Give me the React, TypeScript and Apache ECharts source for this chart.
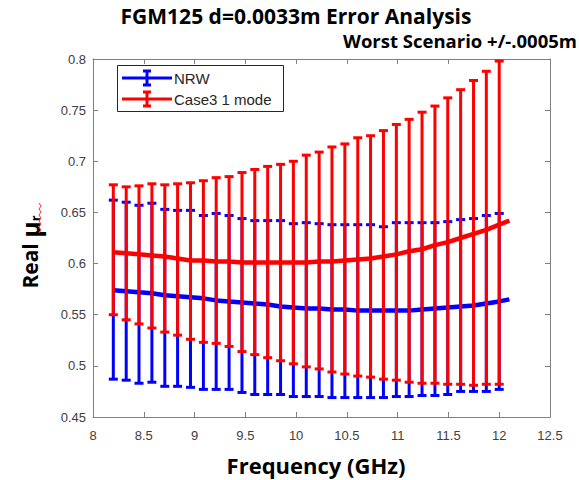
import React, { useEffect, useRef } from "react";
import * as echarts from "echarts";

const freq = [8.2, 8.327, 8.453, 8.58, 8.707, 8.833, 8.96, 9.087, 9.213, 9.34, 9.467, 9.593, 9.72, 9.847, 9.973, 10.1, 10.227, 10.353, 10.48, 10.607, 10.733, 10.86, 10.987, 11.113, 11.24, 11.367, 11.493, 11.62, 11.747, 11.873, 12.0];

const nrwCenter = [0.574, 0.573, 0.572, 0.571, 0.569, 0.568, 0.567, 0.566, 0.564, 0.563, 0.562, 0.561, 0.56, 0.558, 0.557, 0.556, 0.556, 0.555, 0.555, 0.554, 0.554, 0.554, 0.554, 0.554, 0.555, 0.556, 0.557, 0.558, 0.559, 0.561, 0.563];
const nrwLow = [0.487, 0.486, 0.483, 0.484, 0.48, 0.48, 0.479, 0.477, 0.477, 0.477, 0.474, 0.472, 0.472, 0.472, 0.47, 0.47, 0.47, 0.469, 0.469, 0.469, 0.469, 0.469, 0.47, 0.47, 0.471, 0.471, 0.472, 0.475, 0.475, 0.475, 0.477];
const nrwHigh = [0.662, 0.66, 0.657, 0.659, 0.653, 0.652, 0.652, 0.647, 0.649, 0.647, 0.644, 0.642, 0.642, 0.642, 0.639, 0.64, 0.639, 0.638, 0.638, 0.638, 0.638, 0.636, 0.64, 0.64, 0.64, 0.64, 0.641, 0.643, 0.644, 0.647, 0.649];

const caseCenter = [0.611, 0.61, 0.609, 0.608, 0.607, 0.605, 0.603, 0.603, 0.602, 0.602, 0.601, 0.601, 0.601, 0.601, 0.601, 0.601, 0.602, 0.602, 0.603, 0.604, 0.605, 0.607, 0.609, 0.612, 0.614, 0.618, 0.621, 0.625, 0.629, 0.633, 0.638];
const caseLow = [0.55, 0.545, 0.541, 0.537, 0.533, 0.53, 0.526, 0.523, 0.522, 0.519, 0.514, 0.511, 0.508, 0.505, 0.502, 0.499, 0.497, 0.494, 0.492, 0.49, 0.489, 0.487, 0.486, 0.484, 0.483, 0.483, 0.482, 0.482, 0.481, 0.482, 0.482];
const caseHigh = [0.677, 0.675, 0.676, 0.678, 0.677, 0.678, 0.679, 0.681, 0.684, 0.685, 0.689, 0.692, 0.695, 0.697, 0.7, 0.706, 0.709, 0.714, 0.717, 0.723, 0.725, 0.73, 0.736, 0.741, 0.748, 0.754, 0.762, 0.77, 0.779, 0.788, 0.798];

// the plotted centre curves continue a little past the last error bar
const tailFreq = 12.1;
const nrwTail = 0.565;
const caseTail = 0.642;

const seriesNames = ["NRW", "Case3 1 mode"];
const BLUE = "#0000ff";
const RED = "#ff0000";
const AXIS = "#7f7f7f";
const LABEL = "#404040";

function errorBarSeries(name: string, color: string, low: number[], high: number[], z: number) {
  return {
    type: "custom",
    name,
    z,
    data: freq.map((f, i) => [f, low[i], high[i]]),
    encode: { x: 0, y: [1, 2] },
    renderItem: (_params: any, api: any) => {
      const x = api.value(0);
      const pLo = api.coord([x, api.value(1)]);
      const pHi = api.coord([x, api.value(2)]);
      const hw = 4.5;
      const st = { stroke: color, lineWidth: 3 };
      return {
        type: "group",
        children: [
          { type: "line", shape: { x1: pLo[0], y1: pLo[1], x2: pHi[0], y2: pHi[1] }, style: st },
          { type: "line", shape: { x1: pLo[0] - hw, y1: pLo[1], x2: pLo[0] + hw, y2: pLo[1] }, style: st },
          { type: "line", shape: { x1: pHi[0] - hw, y1: pHi[1], x2: pHi[0] + hw, y2: pHi[1] }, style: st },
        ],
      };
    },
  };
}

function legendItem(y: number, color: string, label: string) {
  const st = { stroke: color, lineWidth: 3 };
  return [
    { type: "line", shape: { x1: 122, y1: y, x2: 172, y2: y }, style: st, z: 101 },
    { type: "line", shape: { x1: 147, y1: y - 7, x2: 147, y2: y + 7 }, style: st, z: 101 },
    { type: "line", shape: { x1: 143, y1: y - 7, x2: 151, y2: y - 7 }, style: st, z: 101 },
    { type: "line", shape: { x1: 143, y1: y + 7, x2: 151, y2: y + 7 }, style: st, z: 101 },
    {
      type: "text",
      x: 174,
      y: y,
      z: 101,
      style: { text: label, fill: "#262626", font: "15px 'Liberation Sans', Arial", verticalAlign: "middle", align: "left" },
    },
  ];
}

export default function App() {
  const ref = useRef<HTMLDivElement>(null);
  useEffect(() => {
    if (!ref.current) return;
    const chart = echarts.init(ref.current, undefined, { renderer: "svg" });
    const baseX = {
      type: "value",
      min: 8,
      max: 12.5,
      interval: 0.5,
      splitLine: { show: false },
      axisLine: { show: true, onZero: false, lineStyle: { color: AXIS, width: 1 } },
      axisTick: { show: true, inside: true, length: 5, lineStyle: { color: AXIS } },
    };
    const baseY = {
      type: "value",
      min: 0.45,
      max: 0.8,
      interval: 0.05,
      splitLine: { show: false },
      axisLine: { show: true, onZero: false, lineStyle: { color: AXIS, width: 1 } },
      axisTick: { show: true, inside: true, length: 5, lineStyle: { color: AXIS } },
    };
    chart.setOption({
      animation: false,
      backgroundColor: "#ffffff",
      grid: { left: 93, right: 29, top: 59, bottom: 63, containLabel: false },
      xAxis: [
        {
          ...baseX,
          position: "bottom",
          axisLabel: {
            color: LABEL,
            fontSize: 13,
            fontFamily: "'Liberation Sans', Arial",
            margin: 12,
            showMinLabel: true,
            showMaxLabel: true,
            formatter: (v: number) => String(+v.toFixed(2)),
          },
        },
        { ...baseX, position: "top", axisLabel: { show: false } },
      ],
      yAxis: [
        {
          ...baseY,
          position: "left",
          axisLabel: {
            color: LABEL,
            fontSize: 13,
            fontFamily: "'Liberation Sans', Arial",
            margin: 7,
            showMinLabel: true,
            showMaxLabel: true,
            formatter: (v: number) => String(+v.toFixed(2)),
          },
        },
        { ...baseY, position: "right", axisLabel: { show: false } },
      ],
      series: [
        errorBarSeries(seriesNames[0], BLUE, nrwLow, nrwHigh, 2),
        {
          type: "line",
          name: seriesNames[0] + " centre",
          z: 3,
          data: [...freq.map((f, i) => [f, nrwCenter[i]]), [tailFreq, nrwTail]],
          showSymbol: false,
          lineStyle: { color: BLUE, width: 4.5 },
        },
        errorBarSeries(seriesNames[1], RED, caseLow, caseHigh, 4),
        {
          type: "line",
          name: seriesNames[1] + " centre",
          z: 5,
          data: [...freq.map((f, i) => [f, caseCenter[i]]), [tailFreq, caseTail]],
          showSymbol: false,
          lineStyle: { color: RED, width: 4.5 },
        },
      ],
      graphic: [
        {
          type: "text",
          x: 296,
          y: 16,
          style: {
            text: "FGM125 d=0.0033m Error Analysis",
            fill: "#000",
            font: "bold 21px 'Open Sans', sans-serif",
            lineHeight: 22,
            align: "center",
            verticalAlign: "middle",
          },
        },
        {
          type: "text",
          x: 577,
          y: 40,
          style: {
            text: "Worst Scenario +/-.0005m",
            fill: "#000",
            font: "bold 18.5px 'Open Sans', sans-serif",
            lineHeight: 19,
            align: "right",
            verticalAlign: "middle",
          },
        },
        {
          type: "text",
          x: 316,
          y: 465,
          style: {
            text: "Frequency (GHz)",
            fill: "#000",
            font: "bold 22px 'Open Sans', sans-serif",
            align: "center",
            verticalAlign: "middle",
          },
        },
        {
          type: "text",
          x: 30,
          y: 252,
          rotation: Math.PI / 2,
          style: {
            text: "{a|Real }{b|μ}{c|r}",
            align: "center",
            verticalAlign: "middle",
            rich: {
              a: { font: "bold 21px 'Open Sans', sans-serif", fill: "#000" },
              b: { font: "bold 25px 'Open Sans', sans-serif", fill: "#000" },
              c: { font: "bold 13px 'Open Sans', sans-serif", fill: "#000", padding: [10, 0, 0, 0] },
            },
          },
        },
        {
          type: "polyline",
          shape: { points: [[39, 233], [41, 230], [39, 227], [41, 224], [39, 221], [41, 218], [39, 215], [41, 212], [39, 209], [41, 206], [39, 203]] },
          style: { stroke: "#ff3030", lineWidth: 1, fill: null },
        },
        {
          type: "rect",
          z: 100,
          shape: { x: 117.5, y: 65.5, width: 166, height: 46 },
          style: { fill: "#ffffff", stroke: "#262626", lineWidth: 1 },
        },
        ...legendItem(78, BLUE, seriesNames[0]),
        ...legendItem(99, RED, seriesNames[1]),
      ],
    });
    return () => chart.dispose();
  }, []);
  return <div ref={ref} style={{ position: "fixed", left: 0, top: 0, width: 579, height: 480 }} />;
}
